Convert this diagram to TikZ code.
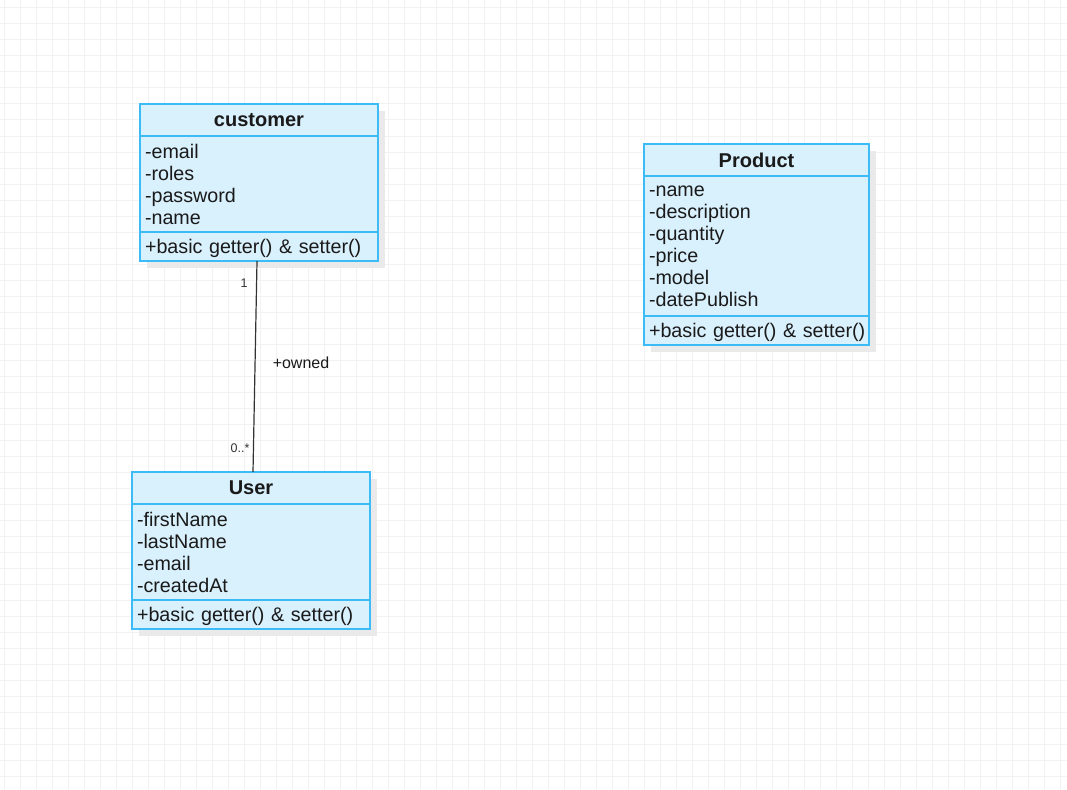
\documentclass[tikz,border=0pt]{standalone}
\usepackage{fontspec}
\setmainfont{Liberation Sans}
\usetikzlibrary{backgrounds}
\definecolor{ustroke}{HTML}{3CBCF7}
\definecolor{ufill}{HTML}{D9F0FD}
\definecolor{ushadow}{HTML}{EAEAEA}
\definecolor{gridc}{HTML}{F2F2F2}
\definecolor{txt}{HTML}{1A1A1A}
\definecolor{lnc}{HTML}{333333}
\tikzset{
  cpart/.style={draw=ustroke, fill=ufill, line width=1.3pt, anchor=north west,
    outer sep=0pt, inner xsep=5pt, inner ysep=0pt, text=txt, align=left,
    font=\fontsize{19.7}{22}\selectfont},
  cmeth/.style={cpart, minimum height=29pt, text depth=0pt},
  ctitle/.style={cpart, align=center, minimum height=32pt,
    font=\fontsize{20}{22}\selectfont\bfseries},
  cshadow/.style={fill=ushadow},
  assoc/.style={draw=lnc, line width=1.2pt},
  mult/.style={text=lnc, font=\fontsize{12.5}{14}\selectfont, inner sep=0pt},
  rolelbl/.style={text=txt, font=\fontsize{16}{18}\selectfont, inner sep=0pt}
}
\begin{document}
\begin{tikzpicture}[x=1pt,y=-1pt]
\useasboundingbox (0,0) rectangle (1067,789);
\begin{scope}[on background layer]
  \fill[white] (0,0) rectangle (1067,789);
  \foreach \gx in {4,20,...,1067} \draw[gridc, line width=1pt] (\gx,0) -- (\gx,789);
  \foreach \gy in {8,24,...,789} \draw[gridc, line width=1pt] (0,\gy) -- (1067,\gy);
\end{scope}

% customer
\node[ctitle, text width=228pt] (cust-t) at (140,104) {customer};
\node[cpart, text width=228pt, minimum height=96pt] (cust-a) at (cust-t.south west)
  {-email\\-roles\\-password\\-name};
\node[cmeth, text width=228pt] (cust-m) at (cust-a.south west)
  {+basic getter() \& setter()};

% Product
\node[ctitle, text width=215pt] (prod-t) at (644,144) {Product};
\node[cpart, text width=215pt, minimum height=140pt] (prod-a) at (prod-t.south west)
  {-name\\-description\\-quantity\\-price\\-model\\-datePublish};
\node[cmeth, text width=215pt] (prod-m) at (prod-a.south west)
  {\mbox{+basic getter() \& setter()}};

% User
\node[ctitle, text width=228pt] (user-t) at (132,472) {User};
\node[cpart, text width=228pt, minimum height=96pt] (user-a) at (user-t.south west)
  {-firstName\\-lastName\\-email\\-createdAt};
\node[cmeth, text width=228pt] (user-m) at (user-a.south west)
  {+basic getter() \& setter()};

\begin{scope}[on background layer]
  \fill[cshadow] ([shift={(7,7)}]cust-t.north west) rectangle ([shift={(7,7)}]cust-m.south east);
  \fill[cshadow] ([shift={(7,7)}]prod-t.north west) rectangle ([shift={(7,7)}]prod-m.south east);
  \fill[cshadow] ([shift={(7,7)}]user-t.north west) rectangle ([shift={(7,7)}]user-m.south east);
\end{scope}

% association
\draw[assoc] ([xshift=-2pt]cust-m.south) -- ([xshift=2pt]user-t.north);
\node[mult] (m1) at (244,283) {1};
\node[mult] (m2) at (240,448) {0..*};
\node[rolelbl] (role) at (301,363) {+owned};
\end{tikzpicture}
\end{document}
